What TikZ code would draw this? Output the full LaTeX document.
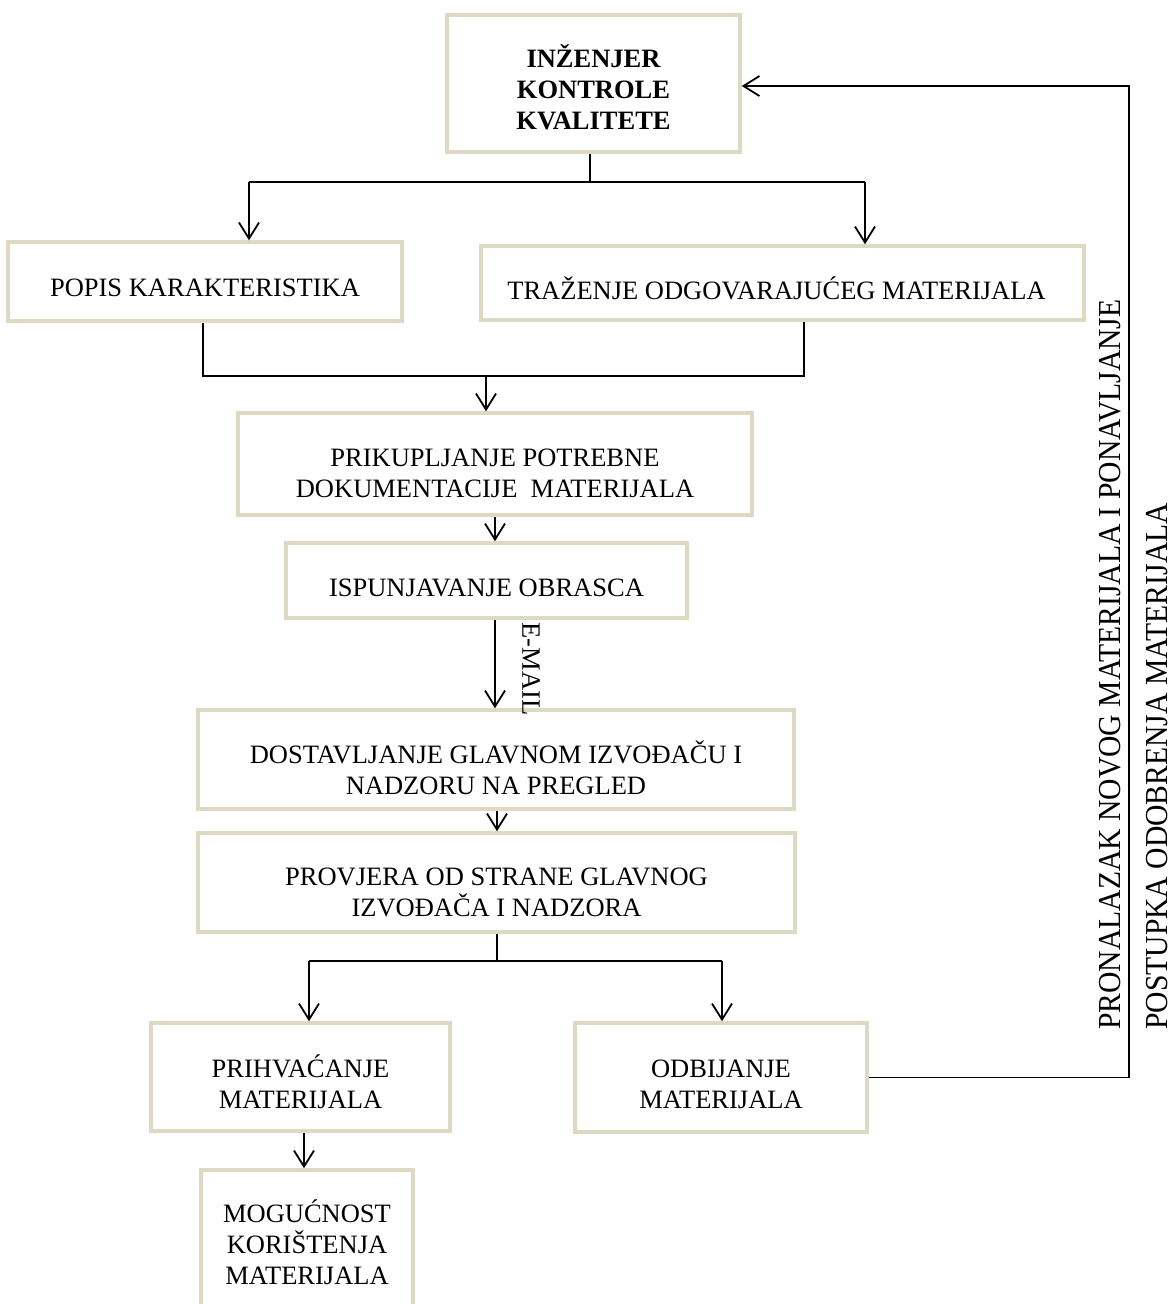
\documentclass[tikz,border=0pt]{standalone}
\usepackage{fontspec}
\usepackage{graphicx}
\setmainfont{Liberation Serif}
\usetikzlibrary{arrows.meta}
\definecolor{boxline}{HTML}{DDD9C3}
\begin{document}
\begin{tikzpicture}[x=1pt,y=-1pt,
  box/.style={draw=boxline, line width=3.5pt, inner sep=0pt},
  txt/.style={align=center, inner sep=0pt, font=\fontsize{26.5}{31}\selectfont},
  conn/.style={line width=1.8pt, black},
  arr/.style={conn, -{Straight Barb[length=16pt,width=20pt,line width=1.8pt]}},
  lbl/.style={font=\fontsize{26.5}{31}\selectfont, inner sep=0pt},
  vlbl/.style={font=\fontsize{32}{36}\selectfont, inner sep=0pt, rotate=90, anchor=base west}]
\useasboundingbox (0,0) rectangle (1173,1304);
\fill[white] (0,0) rectangle (1173,1304);

\node[box, minimum width=293pt, minimum height=137pt] (b1) at (593.5,83.5) {};
\node[txt, font=\fontsize{26.5}{31}\selectfont\bfseries] (b1t) at ([yshift=-3.5pt]b1.center) {INŽENJER\\KONTROLE\\KVALITETE};
\node[box, minimum width=394pt, minimum height=79pt] (b2) at (205,281.5) {};
\node[txt] (b2t) at ([yshift=-6pt]b2.center) {POPIS KARAKTERISTIKA};
\node[box, minimum width=603pt, minimum height=74pt] (b3) at (782.5,283) {};
\node[txt] (b3t) at ([xshift=-6pt,yshift=-5pt]b3.center) {TRAŽENJE ODGOVARAJUĆEG MATERIJALA};
\node[box, minimum width=514pt, minimum height=102pt] (b4) at (495,464) {};
\node[txt] (b4t) at ([yshift=-9pt]b4.center) {PRIKUPLJANJE POTREBNE\\DOKUMENTACIJE\ \ MATERIJALA};
\node[box, minimum width=401pt, minimum height=75pt] (b5) at (486.5,580.5) {};
\node[txt] (b5t) at ([yshift=-7pt]b5.center) {ISPUNJAVANJE OBRASCA};
\node[box, minimum width=596pt, minimum height=99pt] (b6) at (496,759.5) {};
\node[txt] (b6t) at ([yshift=-8pt]b6.center) {DOSTAVLJANJE GLAVNOM IZVOĐAČU I\\NADZORU NA PREGLED};
\node[box, minimum width=597pt, minimum height=99pt] (b7) at (496.5,882.5) {};
\node[txt] (b7t) at ([yshift=-10pt]b7.center) {PROVJERA OD STRANE GLAVNOG\\IZVOĐAČA I NADZORA};
\node[box, minimum width=299pt, minimum height=108pt] (b8) at (300.5,1077) {};
\node[txt] (b8t) at ([yshift=-5pt]b8.center) {PRIHVAĆANJE\\MATERIJALA};
\node[box, minimum width=292pt, minimum height=109pt] (b9) at (721,1077.5) {};
\node[txt] (b9t) at ([yshift=-6.5pt]b9.center) {ODBIJANJE\\MATERIJALA};
\node[box, minimum width=212pt, minimum height=150pt] (b10) at (307,1245) {};
\node[txt] (b10t) at ([yshift=3pt]b10.center) {MOGUĆNOST\\KORIŠTENJA\\MATERIJALA};

% top split
\coordinate (t1) at (249,182);
\coordinate (t2) at (865,182);
\coordinate (t0) at (590,182);
\draw[conn] (t0 |- b1.south) -- (t0);
\draw[conn] (t1) -- (t2);
\draw[arr] (t1) -- (t1 |- b2.north);
\draw[arr] (t2) -- (t2 |- b3.north);

% merge
\coordinate (m1) at (203,376);
\coordinate (m2) at (804,376);
\coordinate (m3) at (486,376);
\draw[conn] (m1 |- b2.south) -- (m1) -- (m2) -- (m2 |- b3.south);
\draw[arr] (m3) -- (m3 |- b4.north);

% chain
\coordinate (x4) at (495,0);
\draw[arr] (x4 |- b4.south) -- (x4 |- b5.north);
\draw[arr] (x4 |- b5.south) -- (x4 |- b6.north);
\node[lbl, rotate=-90] (email) at (531,669) {E-MAIL};
\coordinate (x6) at (497,0);
\draw[arr] (x6 |- b6.south) -- (x6 |- b7.north);

% lower split
\coordinate (n1) at (309,961);
\coordinate (n2) at (722,961);
\draw[conn] (x6 |- b7.south) -- (x6 |- n1);
\draw[conn] (n1) -- (n2);
\draw[arr] (n1) -- (n1 |- b8.north);
\draw[arr] (n2) -- (n2 |- b9.north);
\coordinate (x8) at (304,0);
\draw[arr] (x8 |- b8.south) -- (x8 |- b10.north);

% feedback loop
\coordinate (rt) at (1129,86);
\draw[arr] (b9.east) -| (rt) -- (rt -| b1.east);
\node[vlbl] (fb1) at (1120,1030) {\scalebox{0.926}[1]{PRONALAZAK NOVOG MATERIJALA I PONAVLJANJE}};
\node[vlbl] (fb2) at (1167,1030) {\scalebox{0.926}[1]{POSTUPKA ODOBRENJA MATERIJALA}};
\end{tikzpicture}
\end{document}
